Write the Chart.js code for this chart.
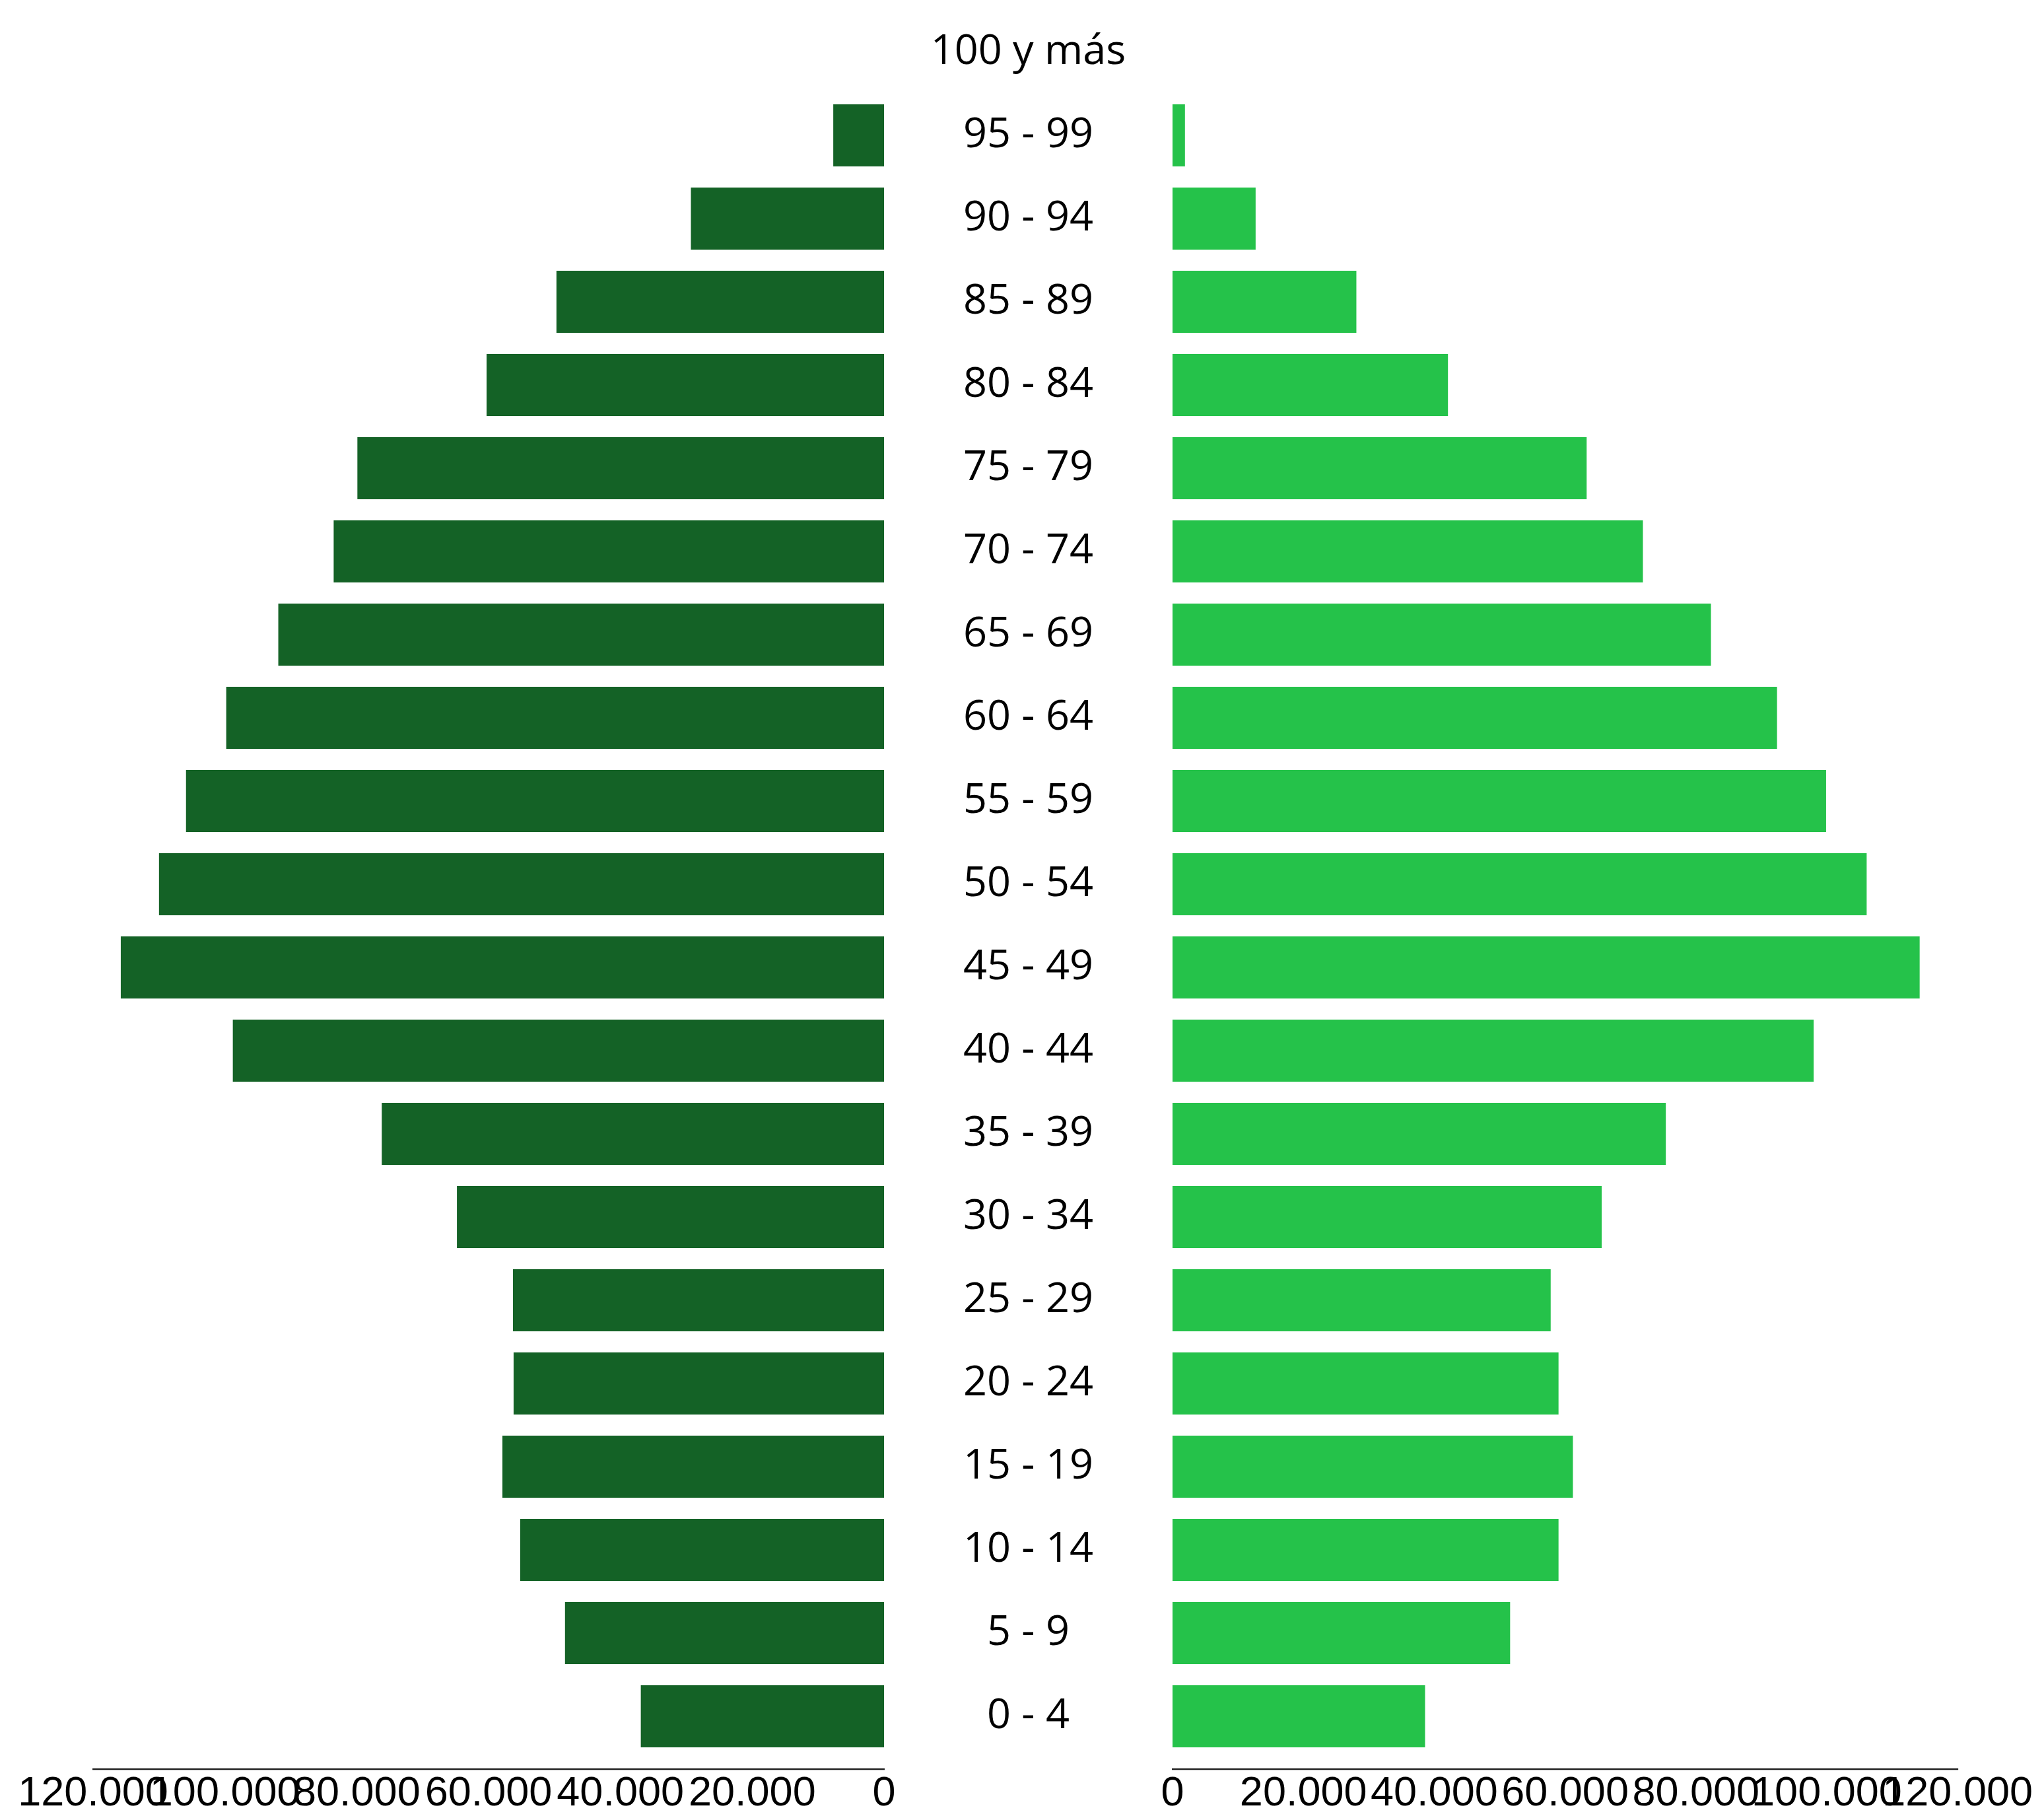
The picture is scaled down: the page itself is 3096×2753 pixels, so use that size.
<!DOCTYPE html>
<html>
<head>
<meta charset="utf-8">
<script src="https://cdn.jsdelivr.net/npm/chart.js@4.4.1/dist/chart.umd.min.js"></script>
<style>
  html, body { margin: 0; padding: 0; background: #ffffff; }
  body { width: 3096px; height: 2753px; position: relative; overflow: hidden; }
  canvas { position: absolute; top: 0; }
  #left { left: 0; }
  #right { left: 1339px; }
</style>
</head>
<body>
<canvas id="left" width="1400" height="2753"></canvas>
<canvas id="right" width="1757" height="2753"></canvas>
<script>
// Age groups, top to bottom
const ageGroups = ['100 y más', '95 - 99', '90 - 94', '85 - 89', '80 - 84', '75 - 79', '70 - 74',
  '65 - 69', '60 - 64', '55 - 59', '50 - 54', '45 - 49', '40 - 44', '35 - 39', '30 - 34',
  '25 - 29', '20 - 24', '15 - 19', '10 - 14', '5 - 9', '0 - 4'];

// Left side (dark green)
const leftValues = [0, 7700, 29300, 49700, 60300, 79900, 83500, 91900, 99800, 105900, 110000,
  115800, 98800, 76200, 64800, 56300, 56200, 57900, 55200, 48400, 36900];

// Right side (light green)
const rightValues = [0, 1900, 12700, 28100, 42100, 63300, 71900, 82300, 92400, 99900, 106100,
  114200, 98000, 75400, 65600, 57800, 59000, 61200, 59000, 51600, 38600];

// Value axis ticks
const xTickValues = [0, 20000, 40000, 60000, 80000, 100000, 120000];
const xTickLabels = ['0', '20.000', '40.000', '60.000', '80.000', '100.000', '120.000'];

const darkGreen = '#146226';
const lightGreen = '#25C24A';
const catFont = { family: '"Open Sans", "Noto Sans", sans-serif', size: 63 };
const tickFont = { family: '"Liberation Sans", Arial, sans-serif', size: 63 };

const axisLinePlugin = {
  id: 'axisLine',
  afterDraw(chart, args, opts) {
    const xs = chart.scales.x;
    const ctx = chart.ctx;
    const y = chart.chartArea.bottom + opts.gap;
    ctx.save();
    ctx.strokeStyle = opts.color;
    ctx.lineWidth = opts.width;
    ctx.beginPath();
    ctx.moveTo(xs.left - 1, y);
    ctx.lineTo(xs.right + 1, y);
    ctx.stroke();
    ctx.restore();
  }
};

function xAxis(reverse) {
  return {
    type: 'linear',
    reverse: reverse,
    min: xTickValues[0],
    max: xTickValues[xTickValues.length - 1],
    afterBuildTicks(scale) { scale.ticks = xTickValues.map(v => ({ value: v })); },
    afterFit(scale) { scale.height = 91; },
    grid: { display: false, drawTicks: false },
    border: { display: false },
    ticks: {
      autoSkip: false,
      maxRotation: 0,
      minRotation: 0,
      padding: 17,
      color: '#000000',
      font: tickFont,
      callback: (v) => { const i = xTickValues.indexOf(v); return i >= 0 ? xTickLabels[i] : ''; }
    }
  };
}

// measure widest category label to center labels in the middle column
const mctx = document.createElement('canvas').getContext('2d');
mctx.font = catFont.size + 'px ' + catFont.family;
const widest = Math.max(...ageGroups.map(l => mctx.measureText(l).width));
const middleWidth = 437;

const common = {
  responsive: false,
  animation: false,
  indexAxis: 'y',
  plugins: {
    legend: { display: false },
    tooltip: { enabled: false },
    axisLine: { gap: 17, color: '#222222', width: 2.3 }
  }
};

new Chart(document.getElementById('left'), {
  type: 'bar',
  data: {
    labels: ageGroups,
    datasets: [{
      label: 'Izquierda',
      data: leftValues,
      backgroundColor: darkGreen,
      categoryPercentage: 1.0,
      barPercentage: 0.746
    }]
  },
  options: Object.assign({}, common, {
    layout: { padding: { left: 141, right: 61, top: 16, bottom: 0 } },
    scales: {
      x: xAxis(true),
      y: { display: false }
    }
  }),
  plugins: [axisLinePlugin]
});

new Chart(document.getElementById('right'), {
  type: 'bar',
  data: {
    labels: ageGroups,
    datasets: [{
      label: 'Derecha',
      data: rightValues,
      backgroundColor: lightGreen,
      categoryPercentage: 1.0,
      barPercentage: 0.746
    }]
  },
  options: Object.assign({}, common, {
    layout: { padding: { left: 0, right: 122, top: 16, bottom: 0 } },
    scales: {
      x: xAxis(false),
      y: {
        position: 'left',
        afterFit(scale) {
          scale.width = middleWidth;
          scale.paddingTop = 0;
          scale.paddingBottom = 0;
        },
        grid: { display: false, drawTicks: false },
        border: { display: false },
        ticks: {
          crossAlign: 'center',
          padding: middleWidth / 2 - widest / 2,
          color: '#000000',
          font: catFont,
          autoSkip: false
        }
      }
    }
  }),
  plugins: [axisLinePlugin]
});
</script>
</body>
</html>
